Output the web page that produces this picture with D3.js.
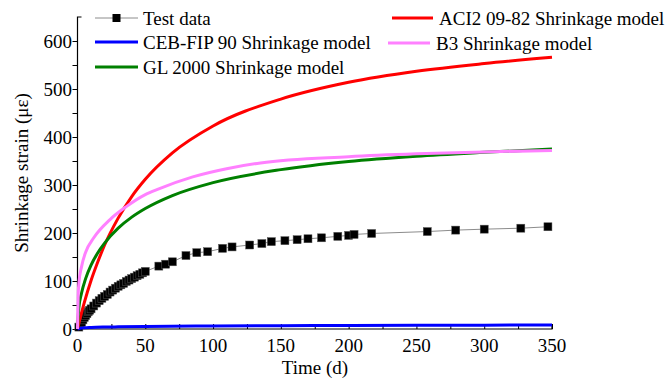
<!DOCTYPE html>
<html>
<head>
<meta charset="utf-8">
<script src="https://cdn.jsdelivr.net/npm/d3@7/dist/d3.min.js"></script>
<style>
  html, body { margin: 0; padding: 0; background: #fff; }
  svg { display: block; }
</style>
</head>
<body>
<svg id="chart" width="665" height="378" font-family="'Liberation Serif', 'Times New Roman', 'DejaVu Serif', serif"></svg>
<script>
// Measured shrinkage (days, microstrain)
const testDays = [1,2,3,4,5,6,7,8,9,10,12,14,16,18,20,22,24,26,28,30,32,34,36,38,40,42,44,46,48,50,
  60,65,70,80,88,96,107,114,127,136,143,153,162,170,180,192,200,204,217,258,279,300,327,347];
const testStrain = [4,9,14,19,24,28,32,36,39,42,48,54,59,64,68,72,77,81,85,89,92,95,99,102,105,108,111,114,117,120,
  131,135,140,153,159,161,168,171,175,178,182,184,186,188,190,193,195,197,199,203,206,208,210,213];

// Model predictions (days, microstrain)
const aciDays = [0,2,5,10,15,20,30,40,50,70,100,150,200,250,300,350];
const aciStrain = [0,23,55,101,140,175,231,276,312,367,423,479,514,537,553,566];

const cebDays = [0,2,5,10,20,30,50,100,150,200,250,300,350];
const cebStrain = [0,1.5,2.5,3.2,4,4.5,5.3,6.2,6.8,7.3,7.7,8,8.3];

const b3Days = [0,0.5,1,3,6,12,24,36,50,60,85,110,135,200,250,300,350];
const b3Strain = [0,70,95,130,160,190,228,255,280,292,317,334,346,359,365,369,372];

const glDays = [0,1,3,6,10,15,20,30,40,50,70,100,150,200,250,300,350];
const glStrain = [0,44,75,105,133,159,179,210,233,251,278,305,332,349,360,368,375];

const xTicks = [0,50,100,150,200,250,300,350];
const yTicks = [0,100,200,300,400,500,600];

const FONT = "'Liberation Serif', 'Times New Roman', 'DejaVu Serif', serif";
const svg = d3.select("#chart");
const x = d3.scaleLinear().domain([0,350]).range([77.5,552]);
const y = d3.scaleLinear().domain([0,650]).range([329,17]);

const series = [
  {days: cebDays, strain: cebStrain, color: "#0000ff"},
  {days: aciDays, strain: aciStrain, color: "#ff0000"},
  {days: glDays, strain: glStrain, color: "#008000"},
  {days: b3Days, strain: b3Strain, color: "#ff80ff"}
];

const line = d3.line().x(d => x(d[0])).y(d => y(d[1])).curve(d3.curveMonotoneX);

// Axes
const xAxis = svg.append("g").attr("transform", "translate(0,329)")
  .call(d3.axisBottom(x).tickValues(d3.range(0,351,25)).tickSize(-5).tickFormat(""));
const yAxis = svg.append("g").attr("transform", "translate(77.5,0)")
  .call(d3.axisLeft(y).tickValues(d3.range(0,651,50)).tickSize(5).tickFormat(""));
[xAxis, yAxis].forEach(g => {
  g.select(".domain").attr("stroke", "#000").attr("stroke-width", 1.2);
  g.selectAll(".tick line").attr("stroke", "#000").attr("stroke-width", 1);
});
xAxis.select(".domain").attr("d", `M${x(0)},0H${x(350)}V-5`);
yAxis.select(".domain").attr("d", `M0,${y(0)}V${y(650)}H4`);
yAxis.selectAll(".tick").filter(d => d === 650).remove();

const txt = sel => sel.attr("font-family", FONT).attr("font-size", 19).attr("fill", "#000");

svg.append("g").selectAll("text").data(xTicks).join("text")
  .attr("x", d => x(d)).attr("y", 352).attr("text-anchor", "middle")
  .call(txt).text(d => d);
svg.append("g").selectAll("text").data(yTicks).join("text")
  .attr("x", 72).attr("y", d => y(d)).attr("dy", "0.35em").attr("text-anchor", "end")
  .call(txt).text(d => d);

svg.append("text").attr("x", 315).attr("y", 374).attr("text-anchor", "middle")
  .call(txt).text("Time (d)");
svg.append("text").attr("transform", "translate(28,173) rotate(-90)")
  .attr("text-anchor", "middle").call(txt).text("Shrinkage strain (με)");

// Test data: thin grey connector plus square markers
const testPts = testDays.map((d,i) => [d, testStrain[i]]);
svg.append("path").datum(testPts)
  .attr("d", d3.line().x(d => x(d[0])).y(d => y(d[1])))
  .attr("fill", "none").attr("stroke", "#8c8c8c").attr("stroke-width", 1);
svg.append("g").selectAll("rect").data(testPts).join("rect")
  .attr("x", d => x(d[0]) - 4).attr("y", d => y(d[1]) - 4)
  .attr("width", 8).attr("height", 8)
  .attr("fill", "#000").attr("stroke", "#555").attr("stroke-width", 0.5);

// Model curves
series.forEach(s => {
  svg.append("path").datum(s.days.map((d,i) => [d, s.strain[i]]))
    .attr("d", line).attr("fill", "none")
    .attr("stroke", s.color).attr("stroke-width", 3);
});

// Legend
const legend = [
  {label: "Test data", lx: [95,138], ty: 18, tx: 143, color: "#8c8c8c", marker: true},
  {label: "CEB-FIP 90 Shrinkage model", lx: [95,138], ty: 42, tx: 143, color: "#0000ff"},
  {label: "GL 2000 Shrinkage model", lx: [95,138], ty: 67, tx: 143, color: "#008000"},
  {label: "ACI2 09-82 Shrinkage model", lx: [392,433], ty: 18, tx: 439, color: "#ff0000"},
  {label: "B3 Shrinkage model", lx: [388,430], ty: 43, tx: 436, color: "#ff80ff"}
];
const lg = svg.append("g").selectAll("g").data(legend).join("g");
lg.append("line")
  .attr("x1", d => d.lx[0]).attr("x2", d => d.lx[1])
  .attr("y1", d => d.ty).attr("y2", d => d.ty)
  .attr("stroke", d => d.color).attr("stroke-width", d => d.marker ? 1 : 3);
lg.filter(d => d.marker).append("rect")
  .attr("x", d => (d.lx[0] + d.lx[1]) / 2 - 4).attr("y", d => d.ty - 4)
  .attr("width", 8).attr("height", 8).attr("fill", "#000");
lg.append("text").attr("x", d => d.tx).attr("y", d => d.ty).attr("dy", "0.35em")
  .call(txt).text(d => d.label);
</script>
</body>
</html>
